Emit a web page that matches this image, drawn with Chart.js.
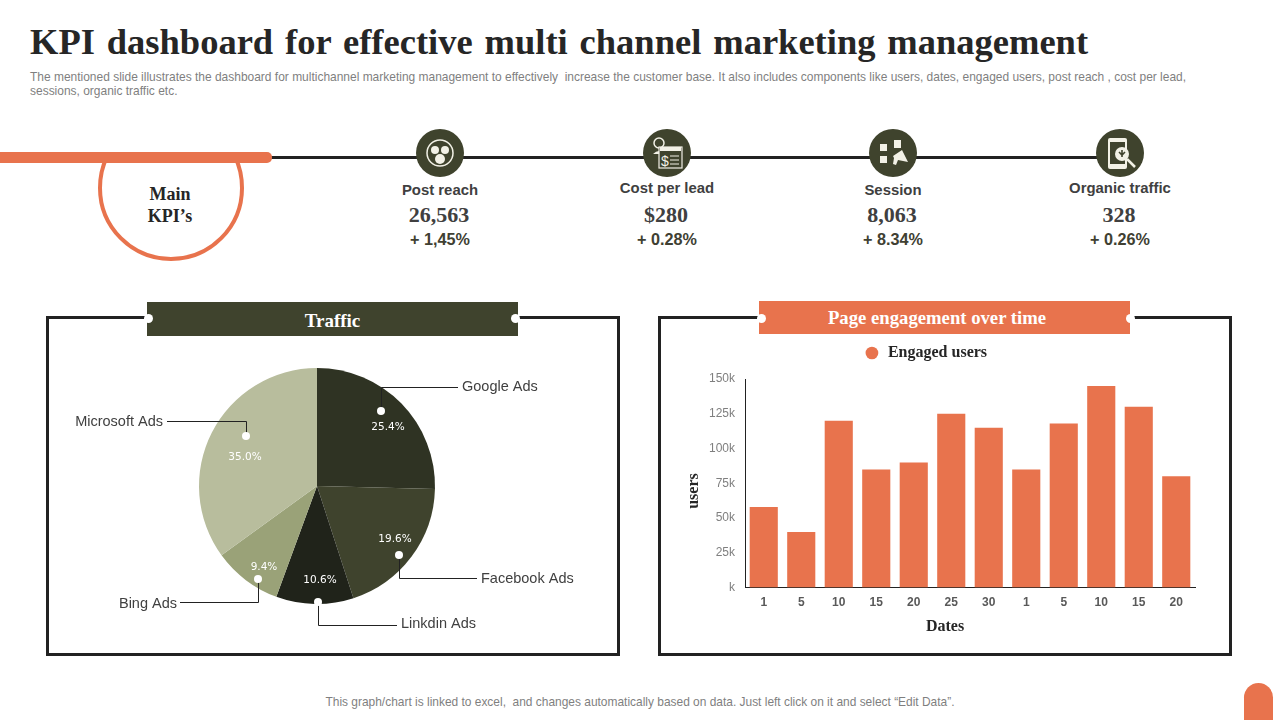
<!DOCTYPE html>
<html>
<head>
<meta charset="utf-8">
<title>KPI dashboard</title>
<script src="https://cdn.jsdelivr.net/npm/chart.js@4/dist/chart.umd.min.js"></script>
<style>
    html, body { margin: 0; padding: 0; background: #fff; }
    #page { position: relative; width: 1280px; height: 720px; overflow: hidden; font-family: "Liberation Sans", sans-serif; }
    #page div, #page canvas, #page svg { position: absolute; }
    .serif { font-family: "Liberation Serif", serif; font-weight: bold; }
    #title { left: 30px; top: 20px; font-size: 36.5px; line-height: 44px; color: #262626; white-space: nowrap; word-spacing: 2.8px; }
    #sub { left: 30px; top: 70px; width: 1240px; font-size: 11.97px; line-height: 14px; color: #7f7f7f; white-space: nowrap; }
    #footer { left: 0; width: 1280px; top: 695px; text-align: center; font-size: 11.95px; line-height: 14px; color: #7f7f7f; }
    #tab { left: 1244px; top: 683px; width: 29px; height: 37px; background: #e8734d; border-radius: 15px 15px 0 0; }
    #line { left: 262px; top: 156px; width: 860px; height: 3px; background: #222; }
    #bar { left: -10px; top: 152px; width: 282px; height: 11px; background: #e8734d; border-radius: 5px; }
    #ring { left: 98px; top: 115px; width: 138px; height: 138px; border: 4px solid #e8734d; border-radius: 50%; clip-path: inset(42px 0 0 0); }
    #main { left: 110px; top: 183px; width: 120px; text-align: center; font-size: 18px; line-height: 22px; color: #262626; }
    .kpi { width: 200px; text-align: center; color: #404040; white-space: nowrap; }
    .kpi-name { font-size: 14.9px; font-weight: bold; }
    .kpi-val { font-size: 22px; font-family: "Liberation Serif", serif; font-weight: bold; }
    .kpi-chg { font-size: 16.2px; font-weight: bold; color: #404032; }
    .panel { top: 316px; width: 568px; height: 334px; border: 3px solid #222; }
    .head { width: 371px; height: 34px; line-height: 38px; text-align: center; color: #fff; font-size: 19px; }
    .dot { width: 9px; height: 9px; background: #fff; border-radius: 50%; }
    .axis-title { color: #262626; font-size: 16px; line-height: 18px; white-space: nowrap; }
</style>
</head>
<body>
<div id="page">
    <div id="title" class="serif">KPI dashboard for effective multi channel marketing management</div>
    <div id="sub">The mentioned slide illustrates the dashboard for multichannel marketing management to effectively&nbsp; increase the customer base. It also includes components like users, dates, engaged users, post reach , cost per lead,<br>sessions, organic traffic etc.</div>

    <div id="line"></div>
    <div id="ring"></div>
    <div id="bar"></div>
    <div id="main" class="serif">Main<br>KPI’s</div>
    <div id="kpis"></div>

    <div class="panel" style="left:46px"></div>
    <div class="panel" style="left:658px"></div>

    <canvas id="pieChart" width="570" height="336" style="left:48px;top:318px;width:570px;height:336px"></canvas>
    <canvas id="barChart" width="570" height="328" style="left:640px;top:326px;width:570px;height:328px"></canvas>

    <div class="head serif" style="left:147px;top:302px;background:#3f432d">Traffic</div>
    <div class="dot" style="left:144px;top:314px"></div>
    <div class="dot" style="left:511px;top:314px"></div>
    <div class="head serif" style="left:759px;top:301px;height:33px;width:356px;padding-right:15px;line-height:34px;font-size:18.7px;background:#e8734d">Page engagement over time</div>
    <div class="dot" style="left:757px;top:314px"></div>
    <div class="dot" style="left:1126px;top:314px"></div>

    <div class="axis-title serif" style="left:845px;width:200px;top:617px;text-align:center">Dates</div>
    <div class="axis-title serif" style="left:593px;width:200px;top:482px;text-align:center;transform:rotate(-90deg)">users</div>

    <div id="footer">This graph/chart is linked to excel,&nbsp; and changes automatically based on data. Just left click on it and select “Edit Data”.</div>
    <div id="tab"></div>
</div>

<script>
// KPI row
const kpiNames = ['Post reach', 'Cost per lead', 'Session', 'Organic traffic'];
const kpiValues = ['26,563', '$280', '8,063', '328'];
const kpiChanges = ['+ 1,45%', '+ 0.28%', '+ 8.34%', '+ 0.26%'];

// traffic pie
const trafficLabels = ['Google Ads', 'Facebook Ads', 'Linkdin Ads', 'Bing Ads', 'Microsoft Ads'];
const trafficValues = [25.4, 19.6, 10.6, 9.4, 35.0];
const trafficColors = ['#2f3323', '#3f432d', '#20231a', '#9aa278', '#b8bd9d'];

// engagement bars
const dateLabels = ['1', '5', '10', '15', '20', '25', '30', '1', '5', '10', '15', '20'];
const engagedUsers = [58000, 40000, 120000, 85000, 90000, 125000, 115000, 85000, 118000, 145000, 130000, 80000];

// callout layout for the pie, offsets from the pie centre
const callouts = [
    { dot: [64, -75], elbow: [64, -99], end: [141, -99], text: [145, -99], align: 'left', pct: [71, -59] },
    { dot: [82, 69], elbow: [82, 92], end: [160, 92], text: [164, 93], align: 'left', pct: [78, 53] },
    { dot: [1, 116], elbow: [1, 139], end: [80, 139], text: [84, 138], align: 'left', pct: [3, 94] },
    { dot: [-59, 93], elbow: [-59, 116], end: [-137, 116], text: [-140, 118], align: 'right', pct: [-53, 81] },
    { dot: [-71, -50], elbow: [-71, -65], end: [-150, -65], text: [-154, -64], align: 'right', pct: [-72, -29] }
];

// icons in the KPI circles, plain shapes only
const kpiIcons = [
    '<circle cx="24" cy="24" r="13" fill="none" stroke="#f2f1e6" stroke-width="1.5"/><circle cx="19" cy="21" r="4" fill="#f2f1e6"/><circle cx="29" cy="21" r="4" fill="#f2f1e6"/><circle cx="24" cy="30" r="5" fill="#f2f1e6"/>',
    '<circle cx="16" cy="14" r="5" fill="none" stroke="#f2f1e6" stroke-width="1.5"/><path d="M10 25q6-6 12 0" fill="#f2f1e6"/><rect x="16" y="18" width="23" height="21" fill="#3f432d" stroke="#f2f1e6" stroke-width="1.2"/><rect x="17" y="18" width="21" height="4" fill="#f2f1e6"/><text x="18" y="37" font-size="14" fill="#f2f1e6" font-family="Liberation Sans">$</text><path d="M27 27h9M27 31h9M27 35h9" stroke="#f2f1e6"/>',
    '<rect x="11" y="15" width="7" height="7" fill="#f2f1e6"/><rect x="25" y="11" width="7" height="8" fill="#f2f1e6"/><rect x="11" y="27" width="7" height="7" fill="#f2f1e6"/><path d="M24 27l9-6 6 12-10-2-2 5-3-1 1-6z" fill="#f2f1e6"/>',
    '<rect x="12" y="9" width="19" height="31" rx="2" fill="#f2f1e6"/><rect x="14" y="13" width="15" height="22" fill="#3f432d"/><circle cx="26" cy="25" r="7" fill="#f2f1e6"/><path d="M26 21v7M23 23l3 3 3-3" stroke="#3f432d" stroke-width="1.6" fill="none"/><path d="M31 30l8 8" stroke="#f2f1e6" stroke-width="2.5"/>'
];
const kpiCenters = [440, 667, 893, 1120];
const kpiNameTops = [182, 180, 182, 180];

const kpisEl = document.getElementById('kpis');
kpiNames.forEach(function(name, i) {
    const left = kpiCenters[i] - 100;
    kpisEl.innerHTML +=
        '<svg width="48" height="48" viewBox="0 0 48 48" style="left:' + (kpiCenters[i] - 24) + 'px;top:129px"><circle cx="24" cy="24" r="24" fill="#3f432d"/>' + kpiIcons[i] + '</svg>' +
        '<div class="kpi kpi-name" style="left:' + left + 'px;top:' + kpiNameTops[i] + 'px">' + name + '</div>' +
        '<div class="kpi kpi-val" style="left:' + (left - 1) + 'px;top:202px">' + kpiValues[i] + '</div>' +
        '<div class="kpi kpi-chg" style="left:' + left + 'px;top:230px">' + kpiChanges[i] + '</div>';
});

// draws the leader lines, dots and percent labels on top of the pie
const calloutPlugin = {
    id: 'callouts',
    afterDatasetsDraw: function(chart) {
        const ctx = chart.ctx;
        const arc = chart.getDatasetMeta(0).data[0];
        const cx = arc.x;
        const cy = arc.y;
        ctx.save();
        callouts.forEach(function(c, i) {
            ctx.strokeStyle = '#222';
            ctx.lineWidth = 1;
            ctx.beginPath();
            ctx.moveTo(cx + c.dot[0] + 0.5, cy + c.dot[1]);
            ctx.lineTo(cx + c.elbow[0] + 0.5, cy + c.elbow[1] + 0.5);
            ctx.lineTo(cx + c.end[0], cy + c.end[1] + 0.5);
            ctx.stroke();

            ctx.fillStyle = '#fff';
            ctx.beginPath();
            ctx.arc(cx + c.dot[0], cy + c.dot[1], 4, 0, Math.PI * 2);
            ctx.fill();

            ctx.textBaseline = 'middle';
            ctx.textAlign = c.align;
            ctx.font = '14.5px "Liberation Sans"';
            ctx.fillStyle = '#404040';
            ctx.fillText(trafficLabels[i], cx + c.text[0], cy + c.text[1]);

            ctx.textAlign = 'center';
            ctx.font = '10.5px "DejaVu Sans"';
            ctx.fillStyle = '#fff';
            ctx.fillText(trafficValues[i].toFixed(1) + '%', cx + c.pct[0], cy + c.pct[1]);
        });
        ctx.restore();
    }
};

// extra room under the legend without moving it
const legendGapPlugin = {
    id: 'legendGap',
    beforeInit: function(chart) {
        const fit = chart.legend.fit;
        chart.legend.fit = function() {
            fit.call(this);
            this.height += 8;
        };
    }
};

document.addEventListener('DOMContentLoaded', function() {
    new Chart(document.getElementById('pieChart').getContext('2d'), {
        type: 'pie',
        data: {
            labels: trafficLabels,
            datasets: [{
                data: trafficValues,
                backgroundColor: trafficColors,
                borderWidth: 0
            }]
        },
        options: {
            responsive: false,
            animation: false,
            layout: { padding: { left: 151, right: 183, top: 50, bottom: 50 } },
            plugins: {
                legend: { display: false },
                tooltip: { enabled: false }
            }
        },
        plugins: [calloutPlugin]
    });

    new Chart(document.getElementById('barChart').getContext('2d'), {
        type: 'bar',
        data: {
            labels: dateLabels,
            datasets: [{
                label: 'Engaged users',
                data: engagedUsers,
                backgroundColor: '#e8734d',
                barPercentage: 0.75,
                categoryPercentage: 1
            }]
        },
        options: {
            responsive: false,
            animation: false,
            layout: { padding: { left: 16, right: 15, top: 0, bottom: 44 } },
            scales: {
                x: {
                    grid: { display: false },
                    border: { color: '#222', width: 1 },
                    ticks: { color: '#595959', font: { family: 'Liberation Sans', size: 12, weight: 'bold' }, autoSkip: false, maxRotation: 0, padding: 0 }
                },
                y: {
                    min: 0,
                    max: 150000,
                    afterFit: function(scale) { scale.width = 89; },
                    grid: { display: false },
                    border: { color: '#222', width: 1 },
                    ticks: {
                        stepSize: 25000,
                        color: '#7f7f7f',
                        padding: 2,
                        font: { family: 'Liberation Sans', size: 12 },
                        callback: function(value) { return value === 0 ? 'k' : (value / 1000) + 'k'; }
                    }
                }
            },
            plugins: {
                legend: {
                    labels: {
                        usePointStyle: true,
                        pointStyle: 'circle',
                        boxHeight: 9,
                        padding: 19,
                        color: '#262626',
                        font: { family: 'Liberation Serif', size: 16, weight: 'bold' }
                    }
                },
                tooltip: { enabled: false }
            }
        },
        plugins: [legendGapPlugin]
    });
});
</script>
</body>
</html>
